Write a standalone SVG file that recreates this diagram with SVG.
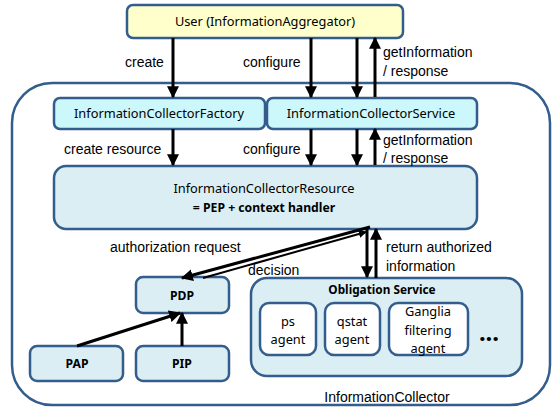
<svg xmlns="http://www.w3.org/2000/svg" width="553" height="408" viewBox="0 0 553 408">
<defs>
<style>
.box{stroke:#335d8c;stroke-width:2.5}
.yel{fill:#ffffcc}
.cyan{fill:#ccf7fb}
.lb{fill:#dbeef4}
.wh{fill:#ffffff}
.bt{font-family:"Noto Sans","Open Sans",sans-serif;font-size:12.8px;fill:#000;text-anchor:middle}
.bb{font-weight:bold;font-size:12.2px}
.lbl{font-family:"Liberation Sans",Arial,sans-serif;font-size:14px;fill:#000}
.ar{stroke:#000;stroke-width:3;fill:none;marker-end:url(#ah)}
.ar2{stroke:#000;stroke-width:2;fill:none;marker-end:url(#ah)}
</style>
<marker id="ah" viewBox="0 0 10 10" refX="9" refY="5" markerWidth="4" markerHeight="4" markerUnits="strokeWidth" orient="auto">
<path d="M0,0 L10,5 L0,10 z" fill="#000"/>
</marker>
</defs>
<rect width="553" height="408" fill="#fff"/>
<g id="informationcollector">
<rect class="box wh" x="12" y="83" width="538" height="322" rx="40"/>
<text class="lbl" x="387" y="402" text-anchor="middle">InformationCollector</text>
</g>
<g id="user">
<rect class="box yel" x="127" y="5" width="276" height="33" rx="6"/>
<text class="bt" x="265" y="26">User (InformationAggregator)</text>
</g>
<g id="factory">
<rect class="box cyan" x="54" y="98" width="211" height="31" rx="6"/>
<text class="bt" x="159" y="118">InformationCollectorFactory</text>
</g>
<g id="service">
<rect class="box cyan" x="267" y="98" width="210" height="31" rx="6"/>
<text class="bt" x="371" y="118">InformationCollectorService</text>
</g>
<g id="resource">
<rect class="box lb" x="54" y="166" width="423" height="63" rx="12"/>
<text class="bt" x="264" y="193">InformationCollectorResource</text>
<text class="bt bb" x="264" y="212">= PEP + context handler</text>
</g>
<g id="pdp">
<rect class="box lb" x="136" y="277" width="93" height="36" rx="7"/>
<text class="bt bb" x="182" y="300">PDP</text>
</g>
<g id="pap">
<rect class="box lb" x="30" y="346" width="93" height="35" rx="7"/>
<text class="bt bb" x="77" y="368">PAP</text>
</g>
<g id="pip">
<rect class="box lb" x="136" y="346" width="93" height="35" rx="7"/>
<text class="bt bb" x="182" y="368">PIP</text>
</g>
<g id="obligation">
<rect class="box lb" x="251" y="278" width="271" height="98" rx="16"/>
<text class="bt bb" x="382" y="294" style="font-size:11.8px">Obligation Service</text>
</g>
<g id="ps">
<rect class="box wh" x="260" y="303" width="56" height="52" rx="9"/>
<text class="bt" x="288" y="326">ps</text>
<text class="bt" x="288" y="344">agent</text>
</g>
<g id="qstat">
<rect class="box wh" x="325" y="303" width="55" height="52" rx="9"/>
<text class="bt" x="352" y="326">qstat</text>
<text class="bt" x="352" y="344">agent</text>
</g>
<g id="ganglia">
<rect class="box wh" x="389" y="303" width="79" height="52" rx="9"/>
<text class="bt" x="428" y="316">Ganglia</text>
<text class="bt" x="428" y="335">filtering</text>
<text class="bt" x="428" y="353">agent</text>
</g>
<g id="more">
<text class="bt bb" x="489" y="341" style="font-size:24px">...</text>
</g>
<g id="connectors">
<line class="ar" x1="173" y1="38" x2="173" y2="97"/>
<line class="ar" x1="311" y1="38" x2="311" y2="97"/>
<line class="ar" x1="357" y1="38" x2="357" y2="97"/>
<line class="ar" x1="375" y1="97" x2="375" y2="38"/>
<line class="ar" x1="173" y1="129" x2="173" y2="165"/>
<line class="ar" x1="311" y1="129" x2="311" y2="165"/>
<line class="ar" x1="357" y1="129" x2="357" y2="165"/>
<line class="ar" x1="375" y1="165" x2="375" y2="129"/>
<line class="ar" x1="367" y1="229" x2="367" y2="277"/>
<line class="ar" x1="376" y1="278" x2="376" y2="229"/>
<line class="ar" x1="370" y1="227" x2="182" y2="278"/>
<line class="ar2" x1="203" y1="278" x2="366" y2="232"/>
<line class="ar" x1="77" y1="346" x2="180" y2="313"/>
<line class="ar" x1="182" y1="346" x2="182" y2="313"/>
<text class="lbl" x="125" y="67">create</text>
<text class="lbl" x="243" y="67">configure</text>
<text class="lbl" x="383" y="57">getInformation</text>
<text class="lbl" x="383" y="76">/ response</text>
<text class="lbl" x="64" y="154">create resource</text>
<text class="lbl" x="243" y="154">configure</text>
<text class="lbl" x="383" y="145">getInformation</text>
<text class="lbl" x="383" y="163">/ response</text>
<text class="lbl" x="110" y="252">authorization request</text>
<text class="lbl" x="248" y="275">decision</text>
<text class="lbl" x="386" y="252">return authorized</text>
<text class="lbl" x="386" y="271">information</text>
</g>
</svg>
